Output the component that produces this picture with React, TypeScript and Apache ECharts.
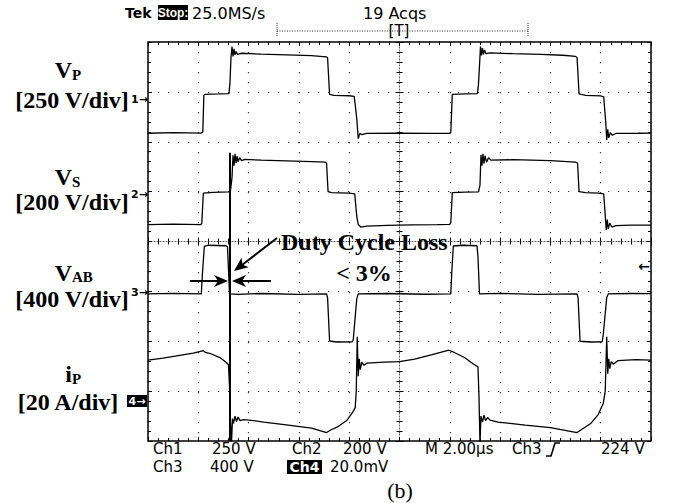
import React, { useEffect, useRef } from "react";
import * as echarts from "echarts";

// ---- scope settings ----
const TIME_MIN_US = 0;
const TIME_MAX_US = 20; // 10 div x 2.00 µs
const TIME_PER_DIV_US = 2;
const DIV_MIN = -4;
const DIV_MAX = 4;

const CHANNEL_LABELS = ["Vp", "Vs", "Vab", "ip"];
const UNITS_PER_DIV = [250, 200, 400, 20]; // V/div, V/div, V/div, A/div
const GROUND_DIV = [2.95, 0.98, -1.05, -3.1];

// cursor line used by the duty-cycle annotation (µs, div)
const CURSOR_US = 3.26;
const CURSOR_TOP_DIV = 1.78;

// ---- waveforms: [time µs, value] ----
const VP_POINTS: [number, number][] = [
  [0, -195], [1.0, -192], [2.12, -194], [2.18, -188], [2.22, -5], [2.26, 0], [2.8, 2], [3.22, 4],
  [3.26, 60], [3.3, 185], [3.34, 240], [3.38, 190], [3.42, 228], [3.46, 198], [3.5, 215], [3.56, 200],
  [3.7, 206], [4.5, 202], [5.5, 198], [6.5, 194], [7.08, 188], [7.14, 184], [7.22, 0], [7.4, -5],
  [8.0, -7], [8.2, -10], [8.3, -120], [8.36, -222], [8.42, -196], [8.5, -202], [8.7, -196], [10, -194],
  [11.2, -196], [12.0, -195], [12.04, -190], [12.1, 0], [12.6, 2], [13.1, 4], [13.14, 50], [13.2, 190],
  [13.22, 240], [13.26, 195], [13.3, 232], [13.34, 200], [13.38, 222], [13.44, 204], [13.6, 208],
  [14.5, 204], [15.6, 200], [16.5, 196], [17.0, 190], [17.06, 185], [17.14, 2], [17.4, -5], [18.0, -8],
  [18.12, -12], [18.2, -140], [18.24, -228], [18.28, -175], [18.32, -218], [18.38, -192], [18.46, -205],
  [18.6, -196], [19.5, -195], [20, -194],
];

const VS_POINTS: [number, number][] = [
  [0, -128], [1.0, -126], [2.1, -128], [2.14, -122], [2.2, -2], [2.6, 1], [3.2, 3], [3.28, 8],
  [3.34, 60], [3.38, 150], [3.42, 108], [3.46, 156], [3.5, 118], [3.54, 146], [3.58, 124], [3.64, 140],
  [3.72, 128], [3.85, 133], [4.5, 130], [5.5, 127], [6.5, 124], [7.05, 122], [7.1, 118], [7.16, 4],
  [7.3, 0], [8.0, -2], [8.22, -5], [8.3, -95], [8.36, -128], [8.46, -138], [8.7, -134], [9.5, -131],
  [10.5, -129], [11.5, -128], [12.0, -127], [12.04, -120], [12.1, 0], [12.6, 2], [13.14, 3], [13.2, 30],
  [13.24, 152], [13.28, 108], [13.32, 156], [13.36, 116], [13.4, 148], [13.46, 122], [13.54, 140],
  [13.64, 130], [14.5, 132], [16.0, 128], [17.0, 122], [17.08, 118], [17.14, 4], [17.4, 0], [17.9, -2],
  [18.12, -5], [18.18, -90], [18.22, -150], [18.26, -108], [18.3, -146], [18.36, -122], [18.44, -138],
  [18.6, -132], [19.2, -130], [20, -130],
];

const VAB_POINTS: [number, number][] = [
  [0, 0], [1.0, 4], [2.12, 0], [2.16, 150], [2.24, 380], [2.4, 390], [3.1, 386], [3.16, 378],
  [3.2, 200], [3.24, 0], [3.6, -4], [4.5, 3], [6.0, -4], [7.1, 0], [7.14, -30], [7.22, -378],
  [7.5, -386], [8.12, -384], [8.16, -370], [8.3, -40], [8.36, 0], [9.5, 3], [11.0, -3], [12.04, 0],
  [12.08, 180], [12.14, 384], [12.5, 390], [13.08, 386], [13.12, 300], [13.18, 0], [14.0, 4],
  [15.5, -4], [17.06, 0], [17.1, -30], [17.18, -380], [17.6, -386], [18.06, -384], [18.1, -330],
  [18.24, -30], [18.3, 0], [19.2, 3], [20, 2],
];

const IP_POINTS: [number, number][] = [
  [0, 14.4], [0.6, 15.2], [1.2, 16.2], [1.8, 17.2], [2.2, 18.2], [2.3, 17.4], [2.5, 17.0], [2.9, 15.2],
  [3.1, 13.6], [3.2, 12.6], [3.24, 4], [3.28, -10], [3.32, -18.6], [3.36, -9], [3.4, -11], [3.46, -8],
  [3.52, -10.2], [3.58, -8.4], [3.66, -9.8], [3.8, -9.4], [4.2, -9.8], [4.6, -10.4], [5.5, -11.5],
  [6.5, -12.8], [7.1, -14.6], [7.3, -13.4], [7.56, -12.2], [7.9, -9.8], [8.14, -6.4], [8.24, -4.6],
  [8.28, 2], [8.32, 23.8], [8.36, 8], [8.4, 15], [8.44, 10.6], [8.5, 13.6], [8.58, 12.4], [8.7, 13.2],
  [9.4, 13.6], [10.0, 13.8], [10.6, 14.8], [11.3, 16.6], [11.96, 18.4], [12.2, 17.4], [12.6, 15.4],
  [12.92, 13.0], [13.12, 11.8], [13.16, 0], [13.2, -19], [13.24, -8], [13.3, -10.4], [13.36, -7.6],
  [13.42, -9.8], [13.5, -8.6], [13.6, -9.6], [13.92, -10.4], [15, -11.6], [16.0, -12.6], [17.06, -14.6],
  [17.3, -13], [17.6, -11], [17.9, -7.4], [18.1, -3], [18.18, 2], [18.24, 23.8], [18.28, 9], [18.32, 15],
  [18.36, 11], [18.42, 13.8], [18.5, 12.8], [18.68, 14.2], [19.4, 14.6], [20, 14.4],
];

const WAVEFORMS = [VP_POINTS, VS_POINTS, VAB_POINTS, IP_POINTS];

// ---- texts ----
const HEADER_LEFT = "Tek";
const HEADER_STOP = "Stop:";
const HEADER_RATE = "25.0MS/s";
const HEADER_ACQS = "19 Acqs";
const HEADER_TRIG = "[T]";
const FOOT_ROW1 = ["Ch1", "250 V", "Ch2", "200 V", "M 2.00µs", "Ch3", "224 V"];
const FOOT_ROW2 = ["Ch3", "400 V", "Ch4", "20.0mV"];
const LABEL_MAIN = ["V", "V", "V", "i"];
const LABEL_SUB = ["P", "S", "AB", "P"];
const LABEL_SCALE = ["[250 V/div]", "[200 V/div]", "[400 V/div]", "[20 A/div]"];
const MARKERS = ["1→", "2→", "3→", "4→"];
const ANNOT_TITLE = "Duty Cycle Loss";
const ANNOT_VALUE = "< 3%";
const CAPTION = "(b)";

const SERIF = '"Liberation Serif", "Times New Roman", serif';
const SANS = '"DejaVu Sans", Verdana, sans-serif';

export default function App() {
  const ref = useRef<HTMLDivElement>(null);

  useEffect(() => {
    if (!ref.current) return;
    const chart = echarts.init(ref.current, null, { renderer: "svg" });

    const GL = 148, GT = 42, GW = 503, GH = 399;

    const tickStyle = { color: "#000", width: 1 };
    const xBase = (extra: any) => ({
      type: "value",
      min: TIME_MIN_US,
      max: TIME_MAX_US,
      interval: TIME_PER_DIV_US,
      axisLabel: { show: false },
      splitLine: { show: false },
      axisLine: { show: false, onZero: false },
      axisTick: { show: true, inside: true, length: 4, lineStyle: tickStyle },
      minorTick: { show: true, splitNumber: 5, length: 3, lineStyle: tickStyle },
      ...extra,
    });
    const yBase = (extra: any) => ({
      type: "value",
      min: DIV_MIN,
      max: DIV_MAX,
      interval: 1,
      axisLabel: { show: false },
      splitLine: { show: false },
      axisLine: { show: false, onZero: false },
      axisTick: { show: true, inside: true, length: 4, lineStyle: tickStyle },
      minorTick: { show: true, splitNumber: 5, length: 3, lineStyle: tickStyle },
      ...extra,
    });
    const dotted = { show: true, lineStyle: { type: [1.2, 8.8], color: "#333", width: 1.2 } };
    const centerLine = { show: true, onZero: false, lineStyle: { type: [1, 2], color: "#555", width: 1 } };

    const series: any[] = WAVEFORMS.map((pts, i) => ({
      type: "line",
      name: CHANNEL_LABELS[i],
      xAxisIndex: 0,
      yAxisIndex: 0,
      showSymbol: false,
      symbol: "none",
      lineStyle: { color: "#000", width: 1.3 },
      data: pts.map(([t, v]) => [t, GROUND_DIV[i] + v / UNITS_PER_DIV[i]]),
      z: 5,
    }));
    series[1].markLine = {
      silent: true,
      symbol: ["none", "none"],
      label: { show: false },
      lineStyle: { color: "#000", width: 2, type: "solid" },
      data: [[{ coord: [CURSOR_US, CURSOR_TOP_DIV] }, { coord: [CURSOR_US, DIV_MIN] }]],
    };

    const txt = (text: string, x: number, y: number, font: string, align = "left", fill = "#000") => ({
      type: "text",
      x,
      y,
      z: 50,
      style: { text, font, textAlign: align, textVerticalAlign: "middle", fill },
    });

    const graphic: any[] = [];
    // header
    graphic.push(txt(HEADER_LEFT, 125, 13, `bold 14px ${SANS}`));
    graphic.push({ type: "rect", shape: { x: 158, y: 5, width: 30, height: 15 }, style: { fill: "#000" }, z: 49 });
    graphic.push({ ...txt(HEADER_STOP, 173, 13, `bold 12px "Liberation Sans", Arial, sans-serif`, "center", "#fff") });
    graphic.push(txt(HEADER_RATE, 192, 13, `16px ${SANS}`));
    graphic.push(txt(HEADER_ACQS, 363, 13, `16px ${SANS}`));
    graphic.push(txt(HEADER_TRIG, 399, 31, `15px ${SANS}`, "center"));
    graphic.push({ type: "line", shape: { x1: 277, y1: 31, x2: 528, y2: 31 }, style: { stroke: "#333", lineWidth: 1, lineDash: [1, 1.5] }, z: 40 });
    graphic.push({ type: "line", shape: { x1: 277, y1: 23, x2: 277, y2: 36 }, style: { stroke: "#333", lineWidth: 1, lineDash: [1, 1] }, z: 40 });
    graphic.push({ type: "line", shape: { x1: 528, y1: 23, x2: 528, y2: 37 }, style: { stroke: "#333", lineWidth: 1, lineDash: [1, 1] }, z: 40 });

    // footer
    const f = `15px ${SANS}`;
    const r1x = [153, 212, 292, 343, 425, 512, 601];
    FOOT_ROW1.forEach((s, i) => graphic.push(txt(s, r1x[i], 449, f)));
    graphic.push({ type: "polyline", shape: { points: [[546, 456], [551, 456], [555, 443], [560, 443]] }, style: { stroke: "#000", lineWidth: 1.6, fill: "none" }, z: 50 });
    const r2x = [153, 210, 304.5, 330];
    FOOT_ROW2.forEach((s, i) => {
      if (s === "Ch4") {
        graphic.push({ type: "rect", shape: { x: 287, y: 460, width: 35, height: 14 }, style: { fill: "#000" }, z: 49 });
        graphic.push(txt(s, r2x[i], 467, `bold 14px ${SANS}`, "center", "#fff"));
      } else {
        graphic.push(txt(s, r2x[i], 467, f));
      }
    });
    graphic.push(txt(CAPTION, 400, 490, `22px ${SERIF}`, "center"));

    // channel labels
    const mainY = [70, 177, 273, 374];
    const subDy = [5, 5, 4, 5];
    const scaleY = [100, 202, 299, 402];
    const scaleX = [72, 72, 72, 68];
    LABEL_MAIN.forEach((m, i) => {
      graphic.push(txt(m, 72, mainY[i], `bold 24px ${SERIF}`, "right"));
      graphic.push(txt(LABEL_SUB[i], 72, mainY[i] + subDy[i], `bold 15px ${SERIF}`, "left"));
      graphic.push(txt(LABEL_SCALE[i], scaleX[i], scaleY[i], `bold 24px ${SERIF}`, "center"));
    });
    const markerY = [99, 194, 292, 401];
    MARKERS.forEach((m, i) => {
      if (i === 3) {
        graphic.push({ type: "rect", shape: { x: 127, y: 395, width: 20, height: 12 }, style: { fill: "#000" }, z: 49 });
        graphic.push(txt(m, 137, markerY[i], `bold 11px ${SANS}`, "center", "#fff"));
      } else {
        graphic.push(txt(m, 131, markerY[i], `bold 11px ${SANS}`, "left"));
      }
    });
    // trigger level marker on right edge
    graphic.push(txt("←", 650, 266, `bold 14px ${SANS}`, "right"));

    // annotation
    graphic.push(txt(ANNOT_TITLE, 281, 242, `bold 24px ${SERIF}`, "left"));
    graphic.push(txt(ANNOT_VALUE, 364, 273, `bold 24px ${SERIF}`, "center"));
    const ink = { stroke: "#000", lineWidth: 2 };
    graphic.push({ type: "line", shape: { x1: 277, y1: 238, x2: 242, y2: 265 }, style: ink, z: 50 });
    graphic.push({ type: "polygon", shape: { points: [[234, 271], [248.7, 267.3], [242.5, 264.5], [241.5, 257.7]] }, style: { fill: "#000" }, z: 50 });
    graphic.push({ type: "line", shape: { x1: 190, y1: 281, x2: 219, y2: 281 }, style: ink, z: 50 });
    graphic.push({ type: "polygon", shape: { points: [[228, 281], [214, 275], [218, 281], [214, 287]] }, style: { fill: "#000" }, z: 50 });
    graphic.push({ type: "line", shape: { x1: 241, y1: 281, x2: 271, y2: 281 }, style: ink, z: 50 });
    graphic.push({ type: "polygon", shape: { points: [[232, 281], [246, 275], [242, 281], [246, 287]] }, style: { fill: "#000" }, z: 50 });

    chart.setOption({
      animation: false,
      backgroundColor: "#fff",
      grid: { left: GL, top: GT, width: GW, height: GH, show: true, borderColor: "#000", borderWidth: 1.5, backgroundColor: "transparent" },
      xAxis: [
        xBase({ position: "bottom", splitLine: dotted }),
        xBase({ position: "top" }),
        xBase({ position: "top", offset: -GH / 2, axisLine: centerLine }),
        xBase({ position: "bottom", offset: -GH / 2 }),
      ],
      yAxis: [
        yBase({ position: "left", splitLine: dotted }),
        yBase({ position: "right" }),
        yBase({ position: "left", offset: -GW / 2, axisLine: centerLine }),
        yBase({ position: "right", offset: -GW / 2 }),
      ],
      series,
      graphic,
    });

    return () => chart.dispose();
  }, []);

  return (
    <div
      ref={ref}
      style={{ position: "fixed", left: 0, top: 0, width: 674, height: 503, background: "#fff" }}
    />
  );
}
